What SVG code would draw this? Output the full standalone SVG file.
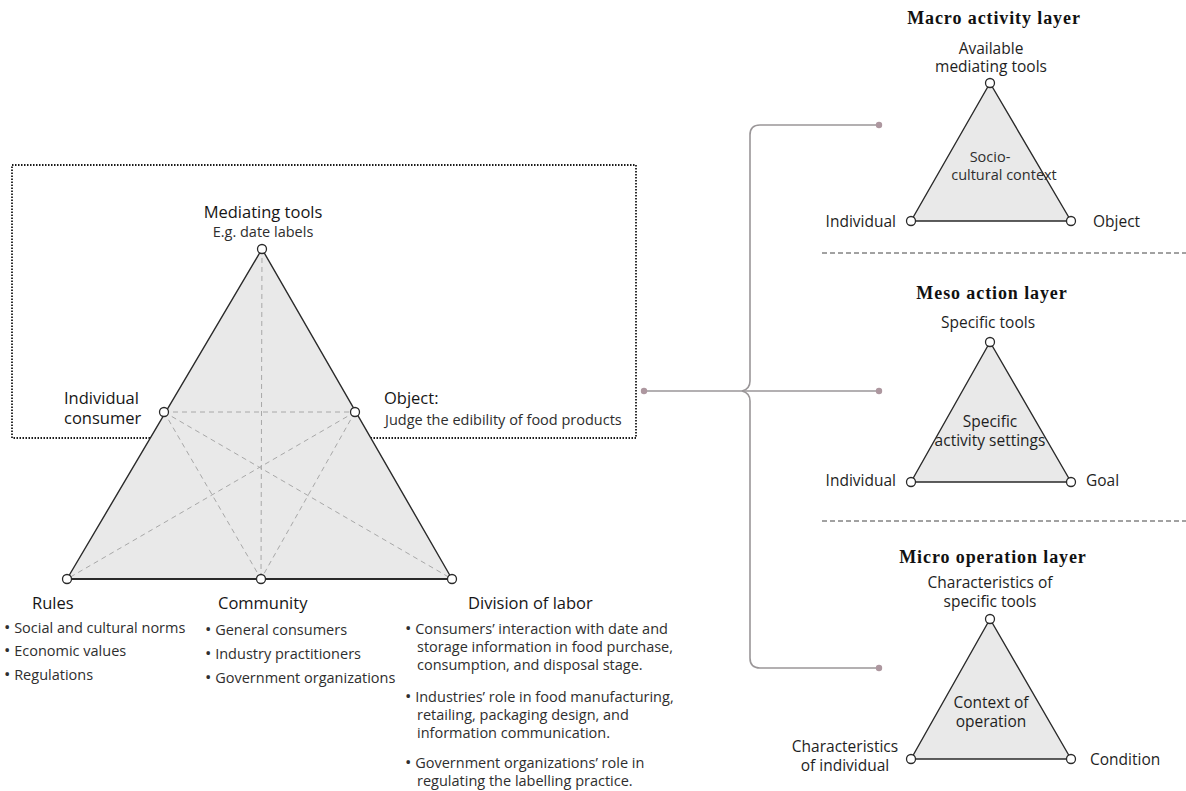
<svg xmlns="http://www.w3.org/2000/svg" width="1186" height="791" viewBox="0 0 1186 791">
  <style>
    .tri { fill: #e9e9e9; stroke: #2a2a2a; stroke-width: 1.4; stroke-linejoin: round; }
    .base { stroke: #2a2a2a; stroke-width: 2; }
    .vtx { fill: #ffffff; stroke: #2a2a2a; stroke-width: 1.3; }
    .inner { stroke: #a8a8a8; stroke-width: 1; stroke-dasharray: 5 4; fill: none; }
    .lbl { font-family: "Open Sans", "Liberation Sans", sans-serif; font-size: 15.5px; fill: #1e1e1e; }
    .sub { font-family: "Open Sans", "Liberation Sans", sans-serif; font-size: 14.5px; fill: #2e2e2e; }
    .head { font-family: "Open Sans", "Liberation Sans", sans-serif; font-size: 16.5px; fill: #161616; }
    .title { font-family: "Liberation Serif", "Times New Roman", serif; font-size: 18px; font-weight: bold; fill: #111; letter-spacing: 0.9px; }
    .bul { font-size: 17px; }
    .mid { text-anchor: middle; }
    .end { text-anchor: end; }
    .sep { stroke: #444; stroke-width: 1; stroke-dasharray: 5 3; }
    .link { fill: none; stroke: #9a9698; stroke-width: 1.6; }
    .dot { fill: #ad979f; }
  </style>

  <!-- Activity system triangle -->
  <g id="activity-system">
    <rect x="12" y="165" width="624" height="273" fill="none" stroke="#1a1a1a" stroke-width="1.8" stroke-dasharray="1.5 1.5"/>
    <polygon class="tri" points="262,249 67,579 452,579"/>
    <line class="base" x1="67" y1="579" x2="452" y2="579"/>
    <g class="inner">
      <line x1="262" y1="249" x2="261" y2="579"/>
      <line x1="164" y1="412" x2="355" y2="412"/>
      <line x1="164" y1="412" x2="261" y2="579"/>
      <line x1="164" y1="412" x2="452" y2="579"/>
      <line x1="355" y1="412" x2="261" y2="579"/>
      <line x1="355" y1="412" x2="67" y2="579"/>
    </g>
  </g>

  <g id="node-tools">
    <circle class="vtx" cx="262" cy="249" r="4.5"/>
    <text class="head mid" x="263" y="218">Mediating tools</text>
    <text class="sub mid" x="263" y="237">E.g. date labels</text>
  </g>

  <g id="node-subject">
    <circle class="vtx" cx="164" cy="412" r="4.5"/>
    <text class="head" x="64" y="404">Individual</text>
    <text class="head" x="64" y="424">consumer</text>
  </g>

  <g id="node-object">
    <circle class="vtx" cx="355" cy="412" r="4.5"/>
    <text class="head" x="384" y="404">Object:</text>
    <text class="sub" x="385" y="425">Judge the edibility of food products</text>
  </g>

  <g id="node-rules">
    <circle class="vtx" cx="67" cy="579" r="4.5"/>
    <text class="head" x="32" y="609">Rules</text>
    <text class="sub" x="4" y="633"><tspan class="bul">•</tspan> Social and cultural norms</text>
    <text class="sub" x="4" y="656"><tspan class="bul">•</tspan> Economic values</text>
    <text class="sub" x="4" y="680"><tspan class="bul">•</tspan> Regulations</text>
  </g>

  <g id="node-community">
    <circle class="vtx" cx="261" cy="579" r="4.5"/>
    <text class="head" x="218" y="609">Community</text>
    <text class="sub" x="205" y="635"><tspan class="bul">•</tspan> General consumers</text>
    <text class="sub" x="205" y="659"><tspan class="bul">•</tspan> Industry practitioners</text>
    <text class="sub" x="205" y="683"><tspan class="bul">•</tspan> Government organizations</text>
  </g>

  <g id="node-division">
    <circle class="vtx" cx="452" cy="579" r="4.5"/>
    <text class="head" x="468" y="609">Division of labor</text>
    <text class="sub" x="405" y="634"><tspan class="bul">•</tspan> Consumers’ interaction with date and</text>
    <text class="sub" x="417" y="652">storage information in food purchase,</text>
    <text class="sub" x="417" y="670">consumption, and disposal stage.</text>
    <text class="sub" x="405" y="702"><tspan class="bul">•</tspan> Industries’ role in food manufacturing,</text>
    <text class="sub" x="417" y="720">retailing, packaging design, and</text>
    <text class="sub" x="417" y="738">information communication.</text>
    <text class="sub" x="405" y="768"><tspan class="bul">•</tspan> Government organizations’ role in</text>
    <text class="sub" x="417" y="786">regulating the labelling practice.</text>
  </g>

  <!-- Brace linking the system to the three layers -->
  <g id="connectors">
    <line class="link" x1="644" y1="391" x2="879" y2="391"/>
    <path class="link" d="M879 125 H760 Q750 125 750 135 V381 Q750 389 742 391 Q750 393 750 401 V658 Q750 668 760 668 H879"/>
    <circle class="dot" cx="644" cy="391" r="3.2"/>
    <circle class="dot" cx="879" cy="125" r="3.2"/>
    <circle class="dot" cx="879" cy="391" r="3.2"/>
    <circle class="dot" cx="879" cy="668" r="3.2"/>
  </g>

  <!-- Layer separators -->
  <g id="separators">
    <line class="sep" x1="822" y1="253" x2="1186" y2="253"/>
    <line class="sep" x1="822" y1="521" x2="1186" y2="521"/>
  </g>

  <g id="layer-macro">
    <text class="title mid" x="994" y="24">Macro activity layer</text>
    <text class="lbl mid" x="991" y="54">Available</text>
    <text class="lbl mid" x="991" y="72">mediating tools</text>
    <polygon class="tri" points="990,83 911,221 1071,221"/>
    <text class="sub mid" x="990" y="162">Socio-</text>
    <text class="sub mid" x="1004" y="180">cultural context</text>
    <circle class="vtx" cx="990" cy="83" r="4.5"/>
    <circle class="vtx" cx="911" cy="221" r="4.5"/>
    <circle class="vtx" cx="1071" cy="221" r="4.5"/>
    <text class="lbl end" x="896" y="227">Individual</text>
    <text class="lbl" x="1093" y="227">Object</text>
  </g>

  <g id="layer-meso">
    <text class="title mid" x="992" y="299">Meso action layer</text>
    <text class="lbl mid" x="988" y="328">Specific tools</text>
    <polygon class="tri" points="990,342 911,482 1071,482"/>
    <text class="lbl mid" x="990" y="427">Specific</text>
    <text class="lbl mid" x="990" y="446">activity settings</text>
    <circle class="vtx" cx="990" cy="342" r="4.5"/>
    <circle class="vtx" cx="911" cy="482" r="4.5"/>
    <circle class="vtx" cx="1071" cy="482" r="4.5"/>
    <text class="lbl end" x="896" y="486">Individual</text>
    <text class="lbl" x="1086" y="486">Goal</text>
  </g>

  <g id="layer-micro">
    <text class="title mid" x="993" y="563">Micro operation layer</text>
    <text class="lbl mid" x="990" y="588">Characteristics of</text>
    <text class="lbl mid" x="990" y="607">specific tools</text>
    <polygon class="tri" points="990,619 911,759 1071,759"/>
    <text class="lbl mid" x="991" y="708">Context of</text>
    <text class="lbl mid" x="991" y="727">operation</text>
    <circle class="vtx" cx="990" cy="619" r="4.5"/>
    <circle class="vtx" cx="911" cy="759" r="4.5"/>
    <circle class="vtx" cx="1071" cy="759" r="4.5"/>
    <text class="lbl mid" x="845" y="752">Characteristics</text>
    <text class="lbl mid" x="845" y="771">of individual</text>
    <text class="lbl" x="1090" y="765">Condition</text>
  </g>
</svg>
